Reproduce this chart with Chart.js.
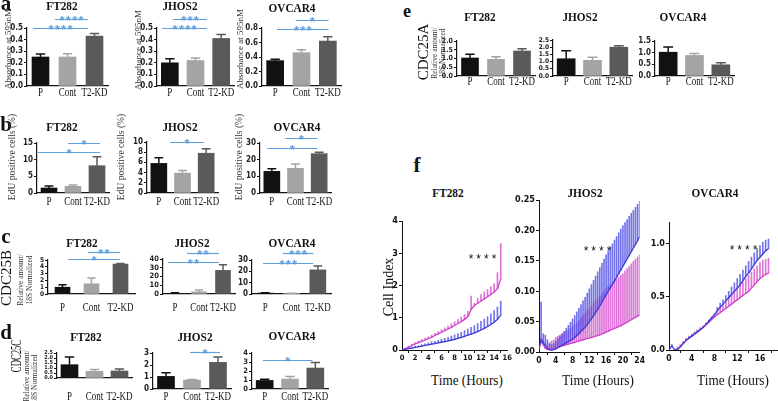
<!DOCTYPE html>
<html>
<head>
<meta charset="utf-8">
<title>CDC25 knockdown figure</title>
<script src="https://cdn.jsdelivr.net/npm/chart.js@4.4.1/dist/chart.umd.min.js"></script>
<style>
  body { margin: 0; background: #fff; }
  #fig { position: relative; width: 778px; height: 401px; overflow: hidden; font-family: "Liberation Serif", "Times New Roman", serif; color: #111; }
  #fig canvas { position: absolute; }
  .t { position: absolute; white-space: nowrap; line-height: 1; transform: translate(-50%, -50%); z-index: 2; }
  .r { transform: translate(-50%, -50%) rotate(-90deg); }
  .ttl { font-weight: bold; font-size: 12.5px; transform: translate(-50%, -50%) scaleX(0.9); }
  .pl { font-weight: bold; font-size: 21px; }
  .yt { font-size: 9px; color: #333; }
  .cdc { font-size: 15px; }
  .ra { font-size: 7.5px; color: #333; }
  .stars { font-family: "Liberation Sans", Arial, sans-serif; font-size: 12px; letter-spacing: 3px; }
  .time { font-size: 15px; transform: translate(-50%, -50%) scaleX(0.88); }
</style>
</head>
<body>
<div id="fig">
  <!-- panel letters -->
  <div class="t pl" style="left:6px;top:3px">a</div>
  <div class="t pl" style="left:6px;top:124px">b</div>
  <div class="t pl" style="left:6px;top:236px">c</div>
  <div class="t pl" style="left:6px;top:332px">d</div>
  <div class="t pl" style="left:407px;top:11px;font-size:18px">e</div>
  <div class="t pl" style="left:417px;top:165px">f</div>

  <!-- titles -->
  <div class="t ttl" style="left:62px;top:6px">FT282</div>
  <div class="t ttl" style="left:180px;top:6px">JHOS2</div>
  <div class="t ttl" style="left:292px;top:8px">OVCAR4</div>
  <div class="t ttl" style="left:62px;top:127px">FT282</div>
  <div class="t ttl" style="left:180px;top:127px">JHOS2</div>
  <div class="t ttl" style="left:297px;top:127px">OVCAR4</div>
  <div class="t ttl" style="left:82px;top:243px">FT282</div>
  <div class="t ttl" style="left:192px;top:243px">JHOS2</div>
  <div class="t ttl" style="left:292px;top:243px">OVCAR4</div>
  <div class="t ttl" style="left:86px;top:337px">FT282</div>
  <div class="t ttl" style="left:195px;top:337px">JHOS2</div>
  <div class="t ttl" style="left:292px;top:336px">OVCAR4</div>
  <div class="t ttl" style="left:480px;top:17px">FT282</div>
  <div class="t ttl" style="left:580px;top:17px">JHOS2</div>
  <div class="t ttl" style="left:683px;top:17px">OVCAR4</div>
  <div class="t ttl" style="left:448px;top:193px">FT282</div>
  <div class="t ttl" style="left:585px;top:193px">JHOS2</div>
  <div class="t ttl" style="left:715px;top:193px">OVCAR4</div>

  <!-- y axis titles -->
  <div class="t r yt" style="left:8px;top:49px">Absorbance at 595nM</div>
  <div class="t r yt" style="left:138px;top:50px">Absorbance at 595nM</div>
  <div class="t r yt" style="left:240px;top:49px">Absorbance at 595nM</div>
  <div class="t r yt" style="left:13px;top:157px;font-size:9.5px">EdU positive cells (%)</div>
  <div class="t r yt" style="left:122px;top:157px;font-size:9.5px">EdU positive cells (%)</div>
  <div class="t r yt" style="left:240px;top:157px;font-size:9.5px">EdU positive cells (%)</div>

  <div class="t r cdc" style="left:6px;top:278px">CDC25B</div>
  <div class="t r ra" style="left:21px;top:280px">Relative amount/</div>
  <div class="t r ra" style="left:30px;top:280px">18S Normalized</div>

  <div class="t r cdc" style="left:17px;top:356px;font-size:14px;transform:translate(-50%,-50%) rotate(-90deg) scaleX(0.62)">CDC25C</div>
  <div class="t r ra" style="left:27px;top:376px">Relative amount/</div>
  <div class="t r ra" style="left:35px;top:379px">18S Normalized</div>

  <div class="t r cdc" style="left:423px;top:52px">CDC25A</div>
  <div class="t r ra" style="left:435px;top:53px">Relative amount/</div>
  <div class="t r ra" style="left:443px;top:53px">18S Normalized</div>

  <div class="t r cdc" style="left:389px;top:287px;font-size:14px">Cell Index</div>
  <div class="t time" style="left:467px;top:380px">Time (Hours)</div>
  <div class="t time" style="left:598px;top:380px">Time (Hours)</div>
  <div class="t time" style="left:733px;top:380px">Time (Hours)</div>

  <div class="t stars" style="left:484px;top:259px">****</div>
  <div class="t stars" style="left:599px;top:251px">****</div>
  <div class="t stars" style="left:745px;top:250px">****</div>
</div>

<script>
// ---------- data: bar panels (P, Cont, T2-KD) ----------
const cats = ['P', 'Cont', 'T2-KD'];

// a: absorbance at 595nM
const aFtMean = [0.25, 0.25, 0.43];
const aFtErr  = [0.025, 0.028, 0.022];
const aJhMean = [0.20, 0.22, 0.41];
const aJhErr  = [0.035, 0.022, 0.035];
const aOvMean = [0.35, 0.46, 0.62];
const aOvErr  = [0.02, 0.04, 0.06];

// b: EdU positive cells (%)
const bFtMean = [1.5, 2.0, 8.2];
const bFtErr  = [0.6, 0.4, 2.7];
const bJhMean = [5.8, 3.9, 7.8];
const bJhErr  = [1.1, 0.5, 0.9];
const bOvMean = [13, 14.8, 23.6];
const bOvErr  = [1.6, 2.6, 0.8];

// c: CDC25B
const cFtMean = [1.0, 1.5, 4.4];
const cFtErr  = [0.35, 0.85, 0.1];
const cJhMean = [0.8, 2.5, 27];
const cJhErr  = [0.5, 2.0, 6.5];
const cOvMean = [0.8, 0.5, 21.3];
const cOvErr  = [0.3, 0.2, 3.5];

// d: CDC25C
const dFtMean = [1.33, 0.67, 0.70];
const dFtErr  = [0.77, 0.18, 0.2];
const dJhMean = [1.05, 0.75, 2.22];
const dJhErr  = [0.3, 0.05, 0.45];
const dOvMean = [0.95, 1.1, 2.33];
const dOvErr  = [0.12, 0.3, 0.62];

// e: CDC25A
const eFtMean = [1.03, 0.95, 1.43];
const eFtErr  = [0.22, 0.15, 0.13];
const eJhMean = [1.2, 1.09, 2.0];
const eJhErr  = [0.56, 0.21, 0.1];
const eOvMean = [1.02, 0.88, 0.48];
const eOvErr  = [0.22, 0.08, 0.09];

// ---------- data: f, cell index over time ----------
const ftT = [0,0.5,1,1.5,2,2.5,3,3.5,4,4.5,5,5.5,6,6.5,7,7.5,8,8.5,9,9.5,10,10.5,11,11.5,12,12.5,13,13.5,14,14.5,15];
const ftBlueMean = [0.00,0.02,0.04,0.06,0.08,0.10,0.12,0.14,0.16,0.18,0.20,0.22,0.24,0.26,0.28,0.31,0.33,0.36,0.39,0.42,0.46,0.49,0.53,0.57,0.62,0.67,0.73,0.79,0.86,0.95,1.08];
const ftBlueUp   = [0.00,0.03,0.06,0.09,0.12,0.14,0.17,0.19,0.22,0.25,0.27,0.30,0.33,0.36,0.39,0.43,0.47,0.51,0.55,0.60,0.65,0.70,0.76,0.82,0.89,0.96,1.04,1.12,1.22,1.34,1.51];
const ftMagMean  = [0.00,0.04,0.09,0.14,0.19,0.23,0.27,0.31,0.35,0.40,0.45,0.50,0.55,0.60,0.65,0.70,0.76,0.82,0.88,0.95,1.03,1.25,1.38,1.45,1.52,1.58,1.65,1.72,1.80,1.90,2.20];
const ftMagUp    = [0.00,0.06,0.12,0.18,0.23,0.28,0.32,0.37,0.41,0.46,0.52,0.57,0.63,0.69,0.75,0.81,0.88,0.95,1.02,1.10,1.20,1.67,1.45,1.60,1.72,1.80,1.88,1.96,2.05,2.40,3.30];

const jhT = [0,0.5,1,1.5,2,2.5,3,3.5,4,4.5,5,5.5,6,6.5,7,7.5,8,8.5,9,9.5,10,10.5,11,11.5,12,12.5,13,13.5,14,14.5,15,15.5,16,16.5,17,17.5,18,18.5,19,19.5,20,20.5,21,21.5,22,22.5,23,23.5,24];
const jhBlueMean = [0.005,0.020,0.015,0.010,0.006,0.004,0.003,0.004,0.005,0.007,0.009,0.011,0.013,0.015,0.017,0.019,0.021,0.024,0.027,0.030,0.034,0.037,0.041,0.045,0.050,0.055,0.060,0.065,0.070,0.076,0.082,0.088,0.094,0.100,0.106,0.111,0.117,0.123,0.129,0.135,0.141,0.147,0.153,0.159,0.165,0.171,0.177,0.183,0.190];
const jhBlueUp   = [0.005,0.082,0.030,0.028,0.020,0.015,0.012,0.014,0.018,0.022,0.026,0.030,0.034,0.039,0.044,0.049,0.054,0.060,0.066,0.072,0.078,0.084,0.090,0.097,0.104,0.111,0.118,0.125,0.132,0.139,0.146,0.153,0.160,0.166,0.172,0.178,0.184,0.190,0.196,0.202,0.208,0.213,0.218,0.223,0.228,0.233,0.238,0.243,0.248];
const jhMagMean  = [0.005,0.018,0.012,0.006,0.004,0.004,0.005,0.006,0.007,0.008,0.009,0.010,0.011,0.012,0.013,0.014,0.015,0.016,0.017,0.018,0.019,0.020,0.021,0.022,0.023,0.024,0.025,0.026,0.027,0.028,0.030,0.031,0.033,0.034,0.036,0.037,0.039,0.040,0.042,0.043,0.045,0.047,0.049,0.051,0.053,0.055,0.057,0.059,0.061];
const jhMagUp    = [0.005,0.022,0.020,0.015,0.012,0.012,0.018,0.020,0.024,0.026,0.028,0.030,0.032,0.034,0.036,0.039,0.042,0.045,0.048,0.052,0.056,0.060,0.064,0.068,0.072,0.076,0.080,0.084,0.088,0.092,0.096,0.100,0.104,0.108,0.111,0.114,0.117,0.120,0.123,0.126,0.129,0.133,0.137,0.141,0.145,0.149,0.153,0.156,0.160];

const ovT = [0,0.5,1,1.5,2,2.5,3,3.5,4,4.5,5,5.5,6,6.5,7,7.5,8,8.5,9,9.5,10,10.5,11,11.5,12,12.5,13,13.5,14,14.5,15,15.5,16,16.5,17,17.5];
const ovBlueMean = [0.00,0.04,0.00,0.005,0.03,0.06,0.09,0.11,0.13,0.15,0.17,0.19,0.21,0.24,0.27,0.30,0.33,0.37,0.40,0.43,0.46,0.49,0.52,0.55,0.58,0.61,0.65,0.69,0.72,0.76,0.80,0.84,0.87,0.90,0.93,0.95];
const ovBlueUp   = [0.00,0.05,0.00,0.01,0.04,0.07,0.10,0.12,0.14,0.16,0.18,0.20,0.22,0.25,0.28,0.31,0.34,0.40,0.44,0.47,0.51,0.55,0.59,0.63,0.67,0.71,0.75,0.79,0.83,0.87,0.91,0.95,0.98,1.01,1.03,1.04];
const ovMagMean  = [null,null,0.00,0.01,0.03,0.06,0.09,0.11,0.13,0.15,0.17,0.19,0.21,0.235,0.26,0.285,0.31,0.33,0.35,0.37,0.39,0.41,0.43,0.45,0.47,0.49,0.51,0.53,0.55,0.58,0.61,0.64,0.67,0.69,0.71,0.72];
const ovMagUp    = [null,null,0.01,0.03,0.05,0.08,0.11,0.13,0.15,0.17,0.19,0.21,0.23,0.255,0.28,0.305,0.33,0.37,0.40,0.43,0.46,0.49,0.52,0.55,0.58,0.61,0.64,0.67,0.70,0.73,0.76,0.79,0.82,0.84,0.85,0.86];

// ---------- styles ----------
const barColors = ['#111111', '#a4a4a4', '#5a5a5a'];
const sigColor = '#5f9fdc';
const blue = '#3b3bd6', blueBar = 'rgba(80,80,228,0.8)';
const mag = '#cf3fc9', magBar = 'rgba(214,80,206,0.8)';
const serif = '"Liberation Serif", "Times New Roman", serif';
const narrow = '"Liberation Sans Narrow", "DejaVu Sans Condensed", "Liberation Sans", Arial, sans-serif';

Chart.defaults.animation = false;
Chart.defaults.font.family = serif;
Chart.defaults.plugins.legend.display = false;
Chart.defaults.plugins.tooltip.enabled = false;

const fig = document.getElementById('fig');

function makeCanvas(left, top, w, h) {
  const cv = document.createElement('canvas');
  cv.width = w; cv.height = h;
  cv.style.left = left + 'px'; cv.style.top = top + 'px';
  cv.style.width = w + 'px'; cv.style.height = h + 'px';
  fig.appendChild(cv);
  return cv;
}

// box: plot area on the page (L,T,R,B), yw = y axis width; ax.lb = baseline of the category labels below the axis
function barChart(box, mean, err, ax, sig) {
  const padTop = 26, padR = 8;
  const xh = ax.lb + 4;
  const left = box.L - box.yw, top = box.T - padTop;
  const cv = makeCanvas(left, top, box.R - box.L + box.yw + padR, box.B - box.T + padTop + xh);

  const errorBars = {
    id: 'errorBars',
    afterDatasetsDraw(chart) {
      const ctx = chart.ctx, y = chart.scales.y;
      chart.getDatasetMeta(0).data.forEach((bar, i) => {
        const yt = y.getPixelForValue(mean[i] + err[i]);
        const cap = bar.width * 0.55;
        ctx.save();
        ctx.strokeStyle = barColors[i];
        ctx.lineWidth = 1.5;
        ctx.beginPath();
        ctx.moveTo(bar.x, bar.y); ctx.lineTo(bar.x, yt);
        ctx.moveTo(bar.x - cap / 2, yt); ctx.lineTo(bar.x + cap / 2, yt);
        ctx.stroke();
        ctx.restore();
      });
    }
  };

  // category names, drawn a little condensed like the original figure
  const catLabels = {
    id: 'catLabels',
    afterDraw(chart) {
      const ctx = chart.ctx, x = chart.scales.x, base = chart.chartArea.bottom + ax.lb;
      ctx.save();
      ctx.fillStyle = '#111';
      ctx.font = '11.5px ' + serif;
      ctx.textAlign = 'center'; ctx.textBaseline = 'alphabetic';
      chart.data.labels.forEach((lab, i) => {
        ctx.save();
        ctx.translate(x.getPixelForValue(i), base);
        ctx.scale(0.78, 1);
        ctx.fillText(lab, 0, 0);
        ctx.restore();
      });
      ctx.restore();
    }
  };

  const sigLines = {
    id: 'sigLines',
    afterDraw(chart) {
      const ctx = chart.ctx, x = chart.scales.x;
      (sig || []).forEach(s => {
        const x0 = x.getPixelForValue(s.from), x1 = x.getPixelForValue(s.to);
        const yy = Math.round(s.y - top) + 0.5;
        ctx.save();
        ctx.strokeStyle = sigColor; ctx.lineWidth = 1.2;
        ctx.beginPath(); ctx.moveTo(x0, yy); ctx.lineTo(x1, yy); ctx.stroke();
        ctx.fillStyle = sigColor;
        ctx.font = 'bold 13px "Liberation Sans", Arial, sans-serif';
        ctx.textAlign = 'center'; ctx.textBaseline = 'alphabetic';
        const n = s.stars.length, sp = 6.3, cx = (x0 + x1) / 2;
        for (let k = 0; k < n; k++) ctx.fillText('*', cx + (k - (n - 1) / 2) * sp, yy + 5);
        ctx.restore();
      });
    }
  };

  return new Chart(cv, {
    type: 'bar',
    data: { labels: cats, datasets: [{ data: mean, backgroundColor: barColors, barThickness: ax.bw }] },
    options: {
      responsive: false,
      devicePixelRatio: 1,
      layout: { padding: { top: padTop, right: padR, left: 0, bottom: 0 } },
      scales: {
        x: {
          grid: { display: false },
          border: { display: true, color: '#151515', width: 1.2 },
          ticks: { display: false },
          afterFit: s => { s.height = xh; }
        },
        y: {
          min: 0, max: ax.max,
          ticks: { stepSize: ax.step, color: '#222', padding: 1, autoSkip: false,
                   font: { family: narrow, size: ax.fs || 8, weight: 'bold' },
                   callback: v => v.toFixed(ax.dec) },
          grid: { drawOnChartArea: false, drawTicks: true, tickLength: 3, color: '#151515' },
          border: { display: true, color: '#151515', width: 1.2 },
          afterFit: s => { s.width = box.yw; }
        }
      }
    },
    plugins: [errorBars, catLabels, sigLines]
  });
}

function growthChart(box, t, bm, bu, mm, mu, ax) {
  const padTop = 8, padR = 1;
  const left = box.L - box.yw, top = box.T - padTop;
  const cv = makeCanvas(left, top, box.R - box.L + box.yw + padR, box.B - box.T + padTop + box.xh);
  const bars = (lo, hi) => t.map((x, i) => ({ x, y: [lo[i], hi[i]] })).filter(p => p.y[0] !== null);
  const line = v => t.map((x, i) => ({ x, y: v[i] }));
  return new Chart(cv, {
    type: 'line',
    data: {
      datasets: [
        { type: 'bar', data: bars(mm, mu), backgroundColor: magBar, barThickness: 1, grouped: false, order: 4 },
        { type: 'bar', data: bars(bm, bu), backgroundColor: blueBar, barThickness: 1, grouped: false, order: 3 },
        { type: 'line', data: line(mm), borderColor: mag, borderWidth: 1.3, pointRadius: 0, order: 2 },
        { type: 'line', data: line(bm), borderColor: blue, borderWidth: 1.3, pointRadius: 0, order: 1 }
      ]
    },
    options: {
      responsive: false,
      devicePixelRatio: 1,
      layout: { padding: { top: padTop, right: padR, left: 0, bottom: 0 } },
      scales: {
        x: {
          type: 'linear', min: 0, max: ax.xmax, offset: false,
          ticks: { stepSize: ax.xstep, includeBounds: false, autoSkip: false, maxRotation: 0, color: '#111', padding: 1,
                   font: { family: narrow, size: ax.xfs || 8.5, weight: 'bold' } },
          grid: { drawOnChartArea: false, drawTicks: true, tickLength: 3, color: '#111' },
          border: { display: true, color: '#111', width: 1 },
          afterFit: s => { s.height = box.xh; }
        },
        y: {
          min: 0, max: ax.ymax,
          ticks: { stepSize: ax.ystep, includeBounds: false, autoSkip: false, color: '#111', padding: 1,
                   font: { family: narrow, size: 9, weight: 'bold' },
                   callback: v => v.toFixed(ax.dec) },
          grid: { drawOnChartArea: false, drawTicks: true, tickLength: 3, color: '#111' },
          border: { display: true, color: '#111', width: 1 },
          afterFit: s => { s.width = box.yw; }
        }
      }
    }
  });
}

// ---------- panel a ----------
barChart({ L: 27, T: 28, R: 108, B: 86, yw: 27 }, aFtMean, aFtErr,
  { max: 0.5, step: 0.1, dec: 1, bw: 17, lb: 10 },
  [{ from: 0.54, to: 1.76, y: 19, stars: '****' }, { from: -0.28, to: 1.76, y: 28, stars: '****' }]);
barChart({ L: 157, T: 28, R: 234, B: 86, yw: 27 }, aJhMean, aJhErr,
  { max: 0.5, step: 0.1, dec: 1, bw: 17, lb: 10 },
  [{ from: 0.12, to: 1.45, y: 19, stars: '***' }, { from: -0.3, to: 1.45, y: 28, stars: '****' }]);
barChart({ L: 262, T: 28, R: 341, B: 86, yw: 20 }, aOvMean, aOvErr,
  { max: 0.8, step: 0.2, dec: 1, bw: 17, lb: 10 },
  [{ from: 0.78, to: 2.03, y: 20, stars: '*' }, { from: 0.07, to: 2.03, y: 29, stars: '***' }]);

// ---------- panel b ----------
barChart({ L: 37, T: 143, R: 109, B: 193, yw: 20 }, bFtMean, bFtErr,
  { max: 15, step: 5, dec: 0, bw: 16, lb: 12 },
  [{ from: 0.79, to: 2.12, y: 143, stars: '*' }, { from: -0.46, to: 2.12, y: 152, stars: '*' }]);
barChart({ L: 147, T: 142, R: 218, B: 193, yw: 18 }, bJhMean, bJhErr,
  { max: 10, step: 2, dec: 0, bw: 16, lb: 12 },
  [{ from: 0.48, to: 1.9, y: 142, stars: '*' }]);
barChart({ L: 260, T: 143, R: 331, B: 193, yw: 15 }, bOvMean, bOvErr,
  { max: 30, step: 10, dec: 0, bw: 16, lb: 12 },
  [{ from: 0.56, to: 1.93, y: 138, stars: '*' }, { from: -0.2, to: 1.93, y: 148, stars: '*' }]);

// ---------- panel c ----------
barChart({ L: 48, T: 260, R: 135, B: 294, yw: 12 }, cFtMean, cFtErr,
  { max: 5, step: 1, dec: 0, bw: 15, lb: 17, fs: 6.5 },
  [{ from: 0.88, to: 1.98, y: 252, stars: '**' }, { from: 0.19, to: 1.98, y: 259, stars: '*' }]);
barChart({ L: 163, T: 259, R: 235, B: 294, yw: 16 }, cJhMean, cJhErr,
  { max: 40, step: 10, dec: 0, bw: 15, lb: 17, fs: 7.5 },
  [{ from: 0.5, to: 1.83, y: 253, stars: '**' }, { from: -0.29, to: 1.83, y: 262, stars: '**' }]);
barChart({ L: 252, T: 260, R: 331, B: 294, yw: 14 }, cOvMean, cOvErr,
  { max: 30, step: 10, dec: 0, bw: 16, lb: 17 },
  [{ from: 0.67, to: 1.83, y: 253, stars: '***' }, { from: -0.08, to: 1.83, y: 263, stars: '***' }]);

// ---------- panel d ----------
barChart({ L: 57, T: 353, R: 132, B: 378, yw: 16 }, dFtMean, dFtErr,
  { max: 2.5, step: 0.5, dec: 1, bw: 17, lb: 22, fs: 5.5 }, []);
barChart({ L: 153, T: 353, R: 231, B: 389, yw: 12 }, dJhMean, dJhErr,
  { max: 3, step: 1, dec: 0, bw: 17, lb: 11 },
  [{ from: 0.92, to: 2.08, y: 352, stars: '*' }]);
barChart({ L: 252, T: 353, R: 328, B: 389, yw: 12 }, dOvMean, dOvErr,
  { max: 4, step: 1, dec: 0, bw: 17, lb: 11, fs: 7.5 },
  [{ from: -0.07, to: 1.89, y: 360, stars: '*' }]);

// ---------- panel e ----------
barChart({ L: 457, T: 41, R: 535, B: 76, yw: 16 }, eFtMean, eFtErr,
  { max: 2.0, step: 0.5, dec: 1, bw: 17, lb: 9, fs: 7 }, []);
barChart({ L: 553, T: 40, R: 632, B: 76, yw: 16 }, eJhMean, eJhErr,
  { max: 2.5, step: 0.5, dec: 1, bw: 18, lb: 9, fs: 6.5 }, []);
barChart({ L: 655, T: 41, R: 734, B: 76, yw: 16 }, eOvMean, eOvErr,
  { max: 1.5, step: 0.5, dec: 1, bw: 18, lb: 9 }, []);

// ---------- panel f ----------
growthChart({ L: 402, T: 221, R: 512, B: 350, yw: 12, xh: 18 }, ftT, ftBlueMean, ftBlueUp, ftMagMean, ftMagUp,
  { xmax: 16, xstep: 2, ymax: 4, ystep: 1, dec: 0, xfs: 7.5 });
growthChart({ L: 539, T: 200, R: 645, B: 352, yw: 28, xh: 18 }, jhT, jhBlueMean, jhBlueUp, jhMagMean, jhMagUp,
  { xmax: 24, xstep: 4, ymax: 0.25, ystep: 0.05, dec: 2 });
growthChart({ L: 669, T: 222, R: 777, B: 350, yw: 20, xh: 18 }, ovT, ovBlueMean, ovBlueUp, ovMagMean, ovMagUp,
  { xmax: 19, xstep: 4, ymax: 1.2, ystep: 0.5, dec: 1 });
</script>
</body>
</html>
